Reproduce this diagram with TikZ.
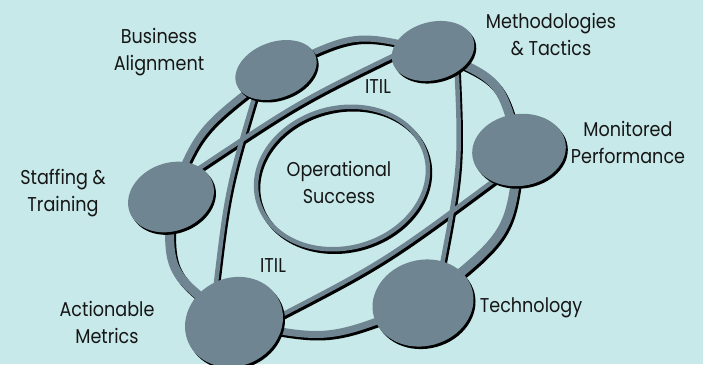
\documentclass[tikz,border=0pt]{standalone}
\usepackage{fontspec}
\setmainfont{Poppins}[FakeStretch=0.88]
\usetikzlibrary{shapes.geometric,shadows,calc}
\definecolor{bgcyan}{RGB}{200,233,234}
\definecolor{hubgrey}{RGB}{111,133,145}
\definecolor{inkblack}{RGB}{22,22,22}
\pgfdeclarelayer{back}
\pgfdeclarelayer{links}
\pgfsetlayers{back,links,main}
\tikzset{
  hub/.style={ellipse, fill=hubgrey, inner sep=0pt, outer sep=0pt,
    drop shadow={shadow xshift=2pt, shadow yshift=-2.5pt, fill=black, opacity=1}},
  link/.style={draw=hubgrey, line cap=butt},
  lbl/.style={font=\fontsize{20}{27}\selectfont, text=inkblack, align=center, inner sep=0pt},
  ringline/.style={draw=hubgrey, line width=4.5pt, line join=round}
}
\newcommand\linkpaths[1]{%
  \draw[link,line width=6pt,#1] (BA.center) .. controls (355,32) .. (MT.center);
  \draw[link,line width=9pt,#1] (MT.center) .. controls (501,80) .. (MP.center);
  \draw[link,line width=9pt,#1] (MP.center) .. controls (510,234) .. (T.center);
  \draw[link,line width=7pt,#1] (T.center) .. controls (328,341) .. (AM.center);
  \draw[link,line width=9pt,#1] (AM.center) .. controls (167,273) .. (ST.center);
  \draw[link,line width=7pt,#1] (ST.center) .. controls (199,129) .. (BA.center);
  \draw[link,line width=4.5pt,#1] ($(BA.center)+(-18,15)$) .. controls (227,189) .. ($(AM.center)+(-20,-22)$);
  \draw[link,line width=4.5pt,#1] ($(ST.center)+(24,-26)$) .. controls (300,101) .. ($(MT.center)+(-28,-1)$);
  \draw[link,line width=4.5pt,#1] ($(MT.center)+(23,5)$) .. controls (461,165) .. ($(T.center)+(17,-28)$);
  \draw[link,line width=4.5pt,#1] ($(AM.center)+(34,0)$) .. controls (384,262) .. ($(MP.center)+(-19,26)$);
}
% inner ring: ellipse tilted so that its long axis rises to the right
\newcommand\ringpath[1]{%
  \draw[ringline,#1] plot[domain=0:355, samples=72, smooth]
    ({342+87*cos(\x)*cos(15)+70*sin(\x)*sin(15)}, {178-87*cos(\x)*sin(15)+70*sin(\x)*cos(15)}) -- cycle;
}
\begin{document}
\begin{tikzpicture}[x=1pt,y=-1pt]
\useasboundingbox (0,0) rectangle (703,364);
\begin{pgfonlayer}{back}
  \fill[bgcyan] (0,0) rectangle (703,364);
\end{pgfonlayer}
% hubs
\node[hub, minimum width=84pt, minimum height=56pt, rotate=20] (BA) at (276,70) {};
\node[hub, minimum width=84pt, minimum height=58pt, rotate=15] (MT) at (433,51) {};
\node[hub, minimum width=94pt, minimum height=72pt, rotate=8] (MP) at (519,150) {};
\node[hub, minimum width=88pt, minimum height=68pt, rotate=20] (ST) at (171,197) {};
\node[hub, minimum width=102pt, minimum height=86pt, rotate=15] (T) at (423,303) {};
\node[hub, minimum width=100pt, minimum height=88pt, rotate=25] (AM) at (234,322) {};
% connectors
\begin{pgfonlayer}{links}
  \begin{scope}[transform canvas={shift={(2pt,-2.5pt)}}]
    \linkpaths{draw=black}
    \ringpath{draw=black}
  \end{scope}
  \linkpaths{}
  \ringpath{}
\end{pgfonlayer}
% labels (base = baseline of the last line)
\node[lbl, anchor=base] (lBA) at (159,70) {Business\\Alignment};
\node[lbl, anchor=base] (lMT) at (551,55) {Methodologies\\\& Tactics};
\node[lbl, anchor=base] (lMP) at (628,163) {Monitored\\Performance};
\node[lbl, anchor=base] (lST) at (63,211) {Staffing \&\\Training};
\node[lbl, anchor=base] (lAM) at (107,343) {Actionable\\Metrics};
\node[lbl, anchor=base] (lT) at (531,312) {Technology};
\node[lbl, anchor=base] (lOS) at (339,203) {Operational\\Success};
\node[lbl, anchor=base] (itil1) at (378,93) {ITIL};
\node[lbl, anchor=base] (itil2) at (273,272) {ITIL};
\end{tikzpicture}
\end{document}
